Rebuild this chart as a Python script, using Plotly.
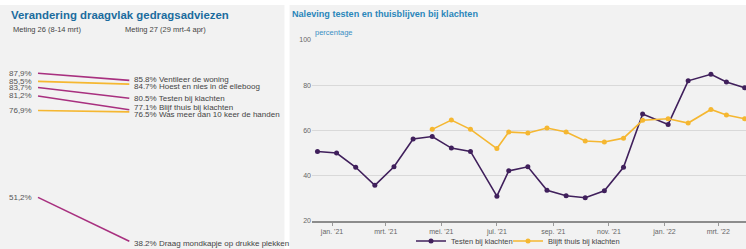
import plotly.graph_objects as go

W, H = 746, 249

# ---------------- data: left panel (slope chart) ----------------
measures = [
    "Ventileer de woning",
    "Hoest en nies in de elleboog",
    "Testen bij klachten",
    "Blijf thuis bij klachten",
    "Was meer dan 10 keer de handen",
    "Draag mondkapje op drukke plekken",
]
meting_26 = [87.9, 85.5, 83.7, 81.2, 76.9, 51.2]
meting_27 = [85.8, 84.7, 80.5, 77.1, 76.5, 38.2]
meting_labels = ["Meting 26 (8-14 mrt)", "Meting 27 (29 mrt-4 apr)"]

# ---------------- data: right panel (line chart) ----------------
dates = [
    "2020-12-16", "2021-01-06", "2021-01-27", "2021-02-17", "2021-03-10",
    "2021-03-31", "2021-04-21", "2021-05-12", "2021-06-02", "2021-07-01",
    "2021-07-14", "2021-08-04", "2021-08-25", "2021-09-15", "2021-10-06",
    "2021-10-27", "2021-11-17", "2021-12-08", "2022-01-05", "2022-01-27",
    "2022-02-21", "2022-03-10", "2022-03-30",
]
testen = [
    50.6, 49.9, 43.6, 35.6, 43.8,
    56.1, 57.2, 52.1, 50.6, 30.8,
    42.0, 43.8, 33.4, 31.0, 30.1,
    33.2, 43.6, 67.2, 62.6, 81.9,
    84.8, 81.4, 78.8,
]
thuisblijven = [
    None, None, None, None, None,
    None, 60.4, 64.5, 60.4, 51.9,
    59.2, 58.8, 61.0, 59.2, 55.2,
    54.8, 56.5, 64.4, 65.1, 63.2,
    69.2, 66.8, 65.1,
]
series_names = ["Testen bij klachten", "Blijft thuis bij klachten"]
tick_dates = ["2021-01-01", "2021-03-01", "2021-05-01", "2021-07-01",
              "2021-09-01", "2021-11-01", "2022-01-01", "2022-03-01"]
tick_labels = ["jan. '21", "mrt. '21", "mei. '21", "jul. '21",
               "sep. '21", "nov. '21", "jan. '22", "mrt. '22"]
y_ticks = [20, 40, 60, 80, 100]

# ---------------- styles ----------------
MAGENTA = "#a8307f"
YELLOW = "#f5b731"
PURPLE = "#40205c"
BG = "#f2f2f2"
FONT = "Liberation Sans, Arial, sans-serif"
slope_colors = [MAGENTA, YELLOW, MAGENTA, MAGENTA, YELLOW, MAGENTA]
right_label_shift = [1, -2, 0, 2.5, -3, -2]


def px(x):
    return x / W


def py(y):
    return 1 - y / H


fig = go.Figure()

for i, name in enumerate(measures):
    fig.add_trace(go.Scatter(
        x=[0, 1], y=[meting_26[i], meting_27[i]],
        mode="lines", line=dict(color=slope_colors[i], width=1.6),
        xaxis="x2", yaxis="y2", showlegend=False, hoverinfo="skip",
    ))

fig.add_trace(go.Scatter(
    x=dates, y=testen, name=series_names[0], mode="lines+markers",
    line=dict(color=PURPLE, width=1.6), marker=dict(color=PURPLE, size=5),
    legendwidth=52,
))
fig.add_trace(go.Scatter(
    x=dates, y=thuisblijven, name=series_names[1], mode="lines+markers",
    line=dict(color=YELLOW, width=1.6), marker=dict(color=YELLOW, size=5),
    legendwidth=85,
))

annotations = []
for i in range(len(measures)):
    annotations.append(dict(
        x=0, y=meting_26[i], xref="x2", yref="y2", xanchor="right",
        yanchor="middle", xshift=-4, showarrow=False,
        text=f"{meting_26[i]:.1f}%".replace(".", ","),
        font=dict(family=FONT, size=8, color="#555555"),
    ))
    annotations.append(dict(
        x=1, y=meting_27[i], xref="x2", yref="y2", xanchor="left",
        yanchor="middle", xshift=3, yshift=right_label_shift[i], showarrow=False,
        text=f"{meting_27[i]:.1f}% {measures[i]}",
        font=dict(family=FONT, size=8, color="#444444"),
    ))

annotations += [
    dict(x=px(9), y=py(15), xref="paper", yref="paper", xanchor="left",
         yanchor="middle", showarrow=False,
         text="<b>Verandering draagvlak gedragsadviezen</b>",
         font=dict(family=FONT, size=11.4, color="#1b6c9e")),
    dict(x=px(11), y=py(30), xref="paper", yref="paper", xanchor="left",
         yanchor="middle", showarrow=False, text=meting_labels[0],
         font=dict(family=FONT, size=7.5, color="#444444")),
    dict(x=px(123), y=py(30), xref="paper", yref="paper", xanchor="left",
         yanchor="middle", showarrow=False, text=meting_labels[1],
         font=dict(family=FONT, size=7.5, color="#444444")),
    dict(x=px(290), y=py(14), xref="paper", yref="paper", xanchor="left",
         yanchor="middle", showarrow=False,
         text="<b>Naleving testen en thuisblijven bij klachten</b>",
         font=dict(family=FONT, size=9.1, color="#2a86ba")),
    dict(x=px(313), y=py(32), xref="paper", yref="paper", xanchor="left",
         yanchor="middle", showarrow=False, text="percentage",
         font=dict(family=FONT, size=7.5, color="#3a8fc4")),
]

shapes = [
    dict(type="rect", xref="paper", yref="paper", x0=0, x1=1,
         y0=py(5), y1=1, fillcolor="white", line=dict(width=0), layer="below"),
    dict(type="rect", xref="paper", yref="paper", x0=px(284.5), x1=px(289.5),
         y0=0, y1=1, fillcolor="white", line=dict(width=0), layer="below"),
]

s_ppu = 3.38
top_val = 87.9 + 73.3 / s_ppu
bot_val = 87.9 - (H - 73.3) / s_ppu
x_ppu = 91.3
left_w = 284

fig.update_layout(
    width=W, height=H,
    margin=dict(l=0, r=0, t=0, b=0, autoexpand=False),
    paper_bgcolor=BG, plot_bgcolor="rgba(0,0,0,0)",
    font=dict(family=FONT, size=8, color="#555555"),
    annotations=annotations, shapes=shapes,
    showlegend=True,
    legend=dict(orientation="h", x=px(411), y=py(241), xanchor="left",
                yanchor="middle", bgcolor="rgba(0,0,0,0)",
                font=dict(family=FONT, size=7.5, color="#444444"),
                itemwidth=30),
    xaxis=dict(
        domain=[px(312), 1], type="date",
        range=["2020-12-10", "2022-03-31 12:00"],
        tickvals=tick_dates, ticktext=tick_labels,
        ticks="outside", ticklen=3, tickcolor="#999999",
        showline=True, linecolor="#8c8c8c", linewidth=2,
        showgrid=False, zeroline=False,
        tickfont=dict(family=FONT, size=7, color="#666666"),
    ),
    yaxis=dict(
        domain=[py(220.5), py(40)], range=[20, 100],
        tickvals=y_ticks, showgrid=True, gridcolor="#d9d9d9", gridwidth=1,
        zeroline=False, showline=False, ticks="",
        tickfont=dict(family=FONT, size=7, color="#666666"),
    ),
    xaxis2=dict(domain=[0, px(left_w)], range=[-38 / x_ppu, (left_w - 38) / x_ppu],
                visible=False, anchor="y2"),
    yaxis2=dict(domain=[0, 1], range=[bot_val, top_val], visible=False,
                anchor="x2"),
)

fig.write_html(
    "out.html",
    config={"displayModeBar": False},
    post_script="document.body.style.margin='0';document.body.style.padding='0';"
                "document.body.style.overflow='hidden';",
)
